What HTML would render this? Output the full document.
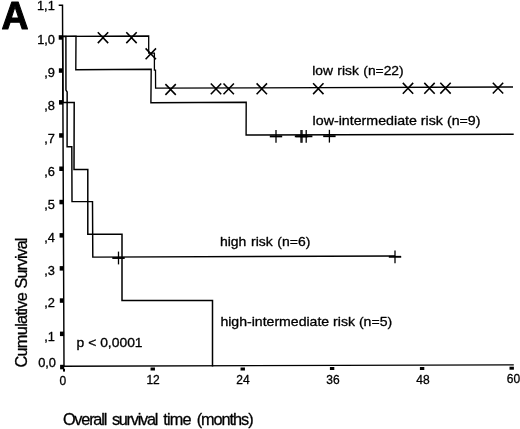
<!DOCTYPE html>
<html lang="en">
<head>
<meta charset="utf-8">
<title>Figure A - Overall survival</title>
<style>
html,body{margin:0;padding:0;background:#fff;}
body{width:520px;height:429px;overflow:hidden;}
svg{display:block;}
text{font-family:"Liberation Sans",Arial,Helvetica,sans-serif;fill:#000;stroke:#000;stroke-width:0.3px;stroke-linejoin:round;}
.ax{font-size:12px;}
.lb{font-size:12.6px;}
.ti{font-size:16.3px;}
</style>
</head>
<body>
<svg width="520" height="429" viewBox="0 0 520 429">
<rect width="520" height="429" fill="#fff"/>
<text transform="translate(1.4 28.7) scale(0.955 1)" font-size="39.2" font-weight="bold" style="stroke-width:1.1px">A</text>
<g fill="none" stroke="#000" stroke-width="1.45" stroke-linecap="butt" stroke-linejoin="miter">
<path d="M58.7 5.3H62.5L64 366.2L513.8 364.85"/>
</g>
<g fill="#000">
<rect x="58.73" y="35.20" width="4.1" height="4.5"/>
<rect x="58.87" y="68.30" width="4.1" height="4.5"/>
<rect x="59.00" y="100.10" width="4.1" height="4.5"/>
<rect x="59.14" y="133.20" width="4.1" height="4.5"/>
<rect x="59.28" y="166.50" width="4.1" height="4.5"/>
<rect x="59.42" y="199.80" width="4.1" height="4.5"/>
<rect x="59.56" y="233.10" width="4.1" height="4.5"/>
<rect x="59.69" y="266.10" width="4.1" height="4.5"/>
<rect x="59.83" y="298.30" width="4.1" height="4.5"/>
<rect x="59.96" y="331.60" width="4.1" height="4.5"/>
<rect x="60.10" y="364.80" width="4.1" height="4.5"/>
<rect x="63.0" y="368.8" width="2.0" height="2.8"/>
<rect x="150.55" y="367.50" width="4.4" height="3"/>
<rect x="240.55" y="367.50" width="4.4" height="3"/>
<rect x="329.90" y="367.00" width="4.4" height="3"/>
<rect x="419.90" y="367.00" width="4.4" height="3"/>
<rect x="509.50" y="366.70" width="4.4" height="3"/>
</g>
<g class="ax" text-anchor="end">
<text transform="translate(54.8 10.1) scale(1.07 1)">1,1</text>
<text transform="translate(55.0 43.5) scale(1.07 1)">1,0</text>
<text transform="translate(55.0 76.5) scale(1.07 1)">,9</text>
<text transform="translate(55.0 109.5) scale(1.07 1)">,8</text>
<text transform="translate(55.0 142.5) scale(1.07 1)">,7</text>
<text transform="translate(55.0 175.5) scale(1.07 1)">,6</text>
<text transform="translate(55.0 208.7) scale(1.07 1)">,5</text>
<text transform="translate(55.0 241.6) scale(1.07 1)">,4</text>
<text transform="translate(55.0 274.5) scale(1.07 1)">,3</text>
<text transform="translate(55.0 307.4) scale(1.07 1)">,2</text>
<text transform="translate(55.0 340.5) scale(1.07 1)">,1</text>
<text transform="translate(56.0 367.2) scale(1.07 1)">0,0</text>
</g>
<g class="ax" text-anchor="middle">
<text x="62.8" y="384.6">0</text>
<text x="153.1" y="383.8">12</text>
<text x="242.9" y="383.8">24</text>
<text x="332.9" y="383.8">36</text>
<text x="422.9" y="383.8">48</text>
<text x="513.4" y="383.0">60</text>
</g>
<g fill="none" stroke="#000" stroke-width="1.55" stroke-linejoin="miter">
<path stroke-width="1.3" d="M62.8 36.4L148.7 36.0L148.7 53.2L154.4 53.2L154.4 70.2L155.5 70.2L155.6 88.2L513 87.0"/>
<path stroke-width="1.4" d="M62.8 36.4L76.0 36.3L75.8 69.7L151.2 69.2L150.9 102.7L246.2 102.3L246.1 135.0L513.7 134.2"/>
<path stroke-width="1.45" d="M62.8 36.4L65.9 36.4L65.95 90.0L67.15 92.0L67.1 146.7L71.8 146.7L72.0 201.6L92.5 201.6L92.8 257.1L395 256.0"/>
<path stroke-width="1.5" d="M62.65 36.4L62.92 102.4L74.2 102.4L74.0 169.6L87.8 169.6L87.8 234.3L122.0 234.3L122.0 300.6L212.5 300.5L212.5 366.6"/>
</g>
<g fill="none" stroke="#000" stroke-width="1.55" stroke-linecap="butt">
<path d="M97.8 32.3L108.2 43.1M97.8 43.1L108.2 32.3"/>
<path d="M126.3 32.3L136.7 43.1M126.3 43.1L136.7 32.3"/>
<path d="M145.6 48.4L156.0 59.2M145.6 59.2L156.0 48.4"/>
<path d="M165.4 84.1L175.8 94.9M165.4 94.9L175.8 84.1"/>
<path d="M210.8 83.5L221.2 94.3M210.8 94.3L221.2 83.5"/>
<path d="M223.5 83.5L233.9 94.3M223.5 94.3L233.9 83.5"/>
<path d="M256.6 83.4L267.0 94.2M256.6 94.2L267.0 83.4"/>
<path d="M313.1 83.3L323.5 94.1M313.1 94.1L323.5 83.3"/>
<path d="M402.8 82.9L413.2 93.7M402.8 93.7L413.2 82.9"/>
<path d="M424.3 82.9L434.7 93.7M424.3 93.7L434.7 82.9"/>
<path d="M440.3 82.8L450.7 93.6M440.3 93.6L450.7 82.8"/>
<path d="M492.8 82.7L503.2 93.5M492.8 93.5L503.2 82.7"/>
</g>
<g fill="none" stroke="#000">
<path d="M276.0 130.0L276.0 142.8" stroke-width="1.3"/><path d="M269.8 136.4L282.2 136.4" stroke-width="1.9"/>
<path d="M301.0 129.9L301.0 142.7" stroke-width="1.3"/><path d="M294.8 136.3L307.2 136.3" stroke-width="1.9"/>
<path d="M302.0 129.9L302.0 142.7" stroke-width="1.3"/><path d="M295.8 136.3L308.2 136.3" stroke-width="1.9"/>
<path d="M306.2 129.9L306.2 142.7" stroke-width="1.3"/><path d="M300.0 136.3L312.4 136.3" stroke-width="1.9"/>
<path d="M329.4 129.8L329.4 142.6" stroke-width="1.3"/><path d="M323.2 136.2L335.6 136.2" stroke-width="1.9"/>
<path d="M118.5 251.6L118.5 264.4" stroke-width="1.3"/><path d="M112.3 258.0L124.7 258.0" stroke-width="1.9"/>
<path d="M395.0 250.4L395.0 263.2" stroke-width="1.3"/><path d="M388.8 256.8L401.2 256.8" stroke-width="1.9"/>
</g>
<g class="lb">
<text x="312.2" y="75.1" textLength="91.5" lengthAdjust="spacingAndGlyphs" word-spacing="0.5">low risk (n=22)</text>
<text x="312.6" y="125.4" textLength="167.9" lengthAdjust="spacingAndGlyphs">low-intermediate risk (n=9)</text>
<text x="220.0" y="245.9" textLength="90.3" lengthAdjust="spacingAndGlyphs" word-spacing="0.7">high risk (n=6)</text>
<text x="220.4" y="326.2" textLength="171.8" lengthAdjust="spacingAndGlyphs">high-intermediate risk (n=5)</text>
<text x="76.6" y="346.7" textLength="66" lengthAdjust="spacingAndGlyphs">p &lt; 0,0001</text>
</g>
<text class="ti" y="424.6"><tspan x="62.9" letter-spacing="-1.2">Overall </tspan><tspan x="111.9" letter-spacing="-1.25">survival </tspan><tspan x="163.2" letter-spacing="-0.82">time </tspan><tspan x="196.7" letter-spacing="-1.04">(months)</tspan></text>
<text class="ti" transform="translate(26.9 367.6) rotate(-90)"><tspan x="0" letter-spacing="-0.67">Cumulative </tspan><tspan x="79.2" letter-spacing="-1.02">Survival</tspan></text>
</svg>
</body>
</html>
